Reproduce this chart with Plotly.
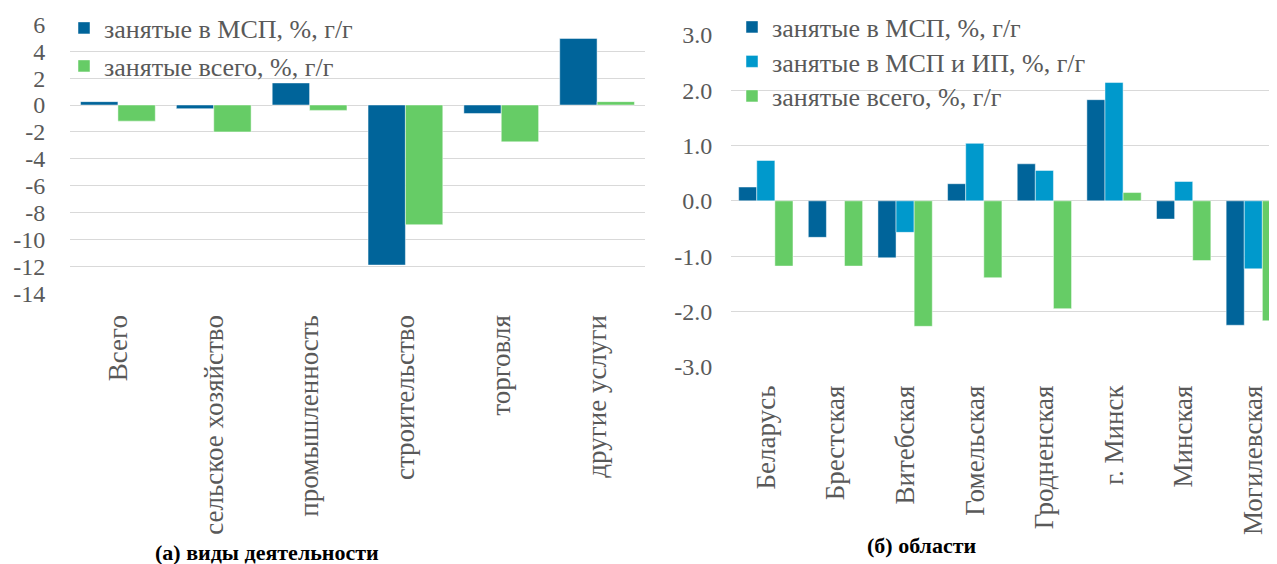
import plotly.graph_objects as go

# page body has an 8px margin, so the figure is offset by (8, 8) in the window
OFF = 8
W, H = 1277 - OFF, 564 - OFF

# ---- data: panel (a) ----
sectors = ["Всего", "сельское хозяйство", "промышленность", "строительство", "торговля", "другие услуги"]
sme_a = [0.25, -0.27, 1.64, -11.9, -0.63, 4.95]
total_a = [-1.2, -2.0, -0.4, -8.9, -2.74, 0.25]

# ---- data: panel (b) ----
regions = ["Беларусь", "Брестская", "Витебская", "Гомельская", "Гродненская", "г. Минск", "Минская", "Могилевская"]
sme_b = [0.25, -0.66, -1.03, 0.31, 0.67, 1.83, -0.33, -2.25]
sme_ip_b = [0.73, None, -0.57, 1.04, 0.55, 2.14, 0.35, -1.23]
total_b = [-1.18, -1.18, -2.27, -1.39, -1.95, 0.15, -1.08, -2.17]

yticks_a = [6, 4, 2, 0, -2, -4, -6, -8, -10, -12, -14]
yticks_b = [3.0, 2.0, 1.0, 0.0, -1.0, -2.0, -3.0]

C_DARK = "#00649A"
C_LIGHT = "#0099CC"
C_GREEN = "#66CC66"
TXT = "#595959"
GRID = "#D9D9D9"
FONT = "Liberation Serif, Times New Roman, serif"

def fx(x):
    return (x - OFF) / W

def fy(y):
    return 1 - (y - OFF) / H

def px(x0, x1):
    return [fx(x0), fx(x1)]

def py(top, bottom):
    return [fy(bottom), fy(top)]

line = dict(width=0.8, color="rgba(255,255,255,0.6)")

fig = go.Figure()
fig.add_trace(go.Bar(x=sectors, y=sme_a, name="занятые в МСП, %, г/г", marker=dict(color=C_DARK, line=line),
                     xaxis="x", yaxis="y", legend="legend", showlegend=True))
fig.add_trace(go.Bar(x=sectors, y=total_a, name="занятые всего, %, г/г", marker=dict(color=C_GREEN, line=line),
                     xaxis="x", yaxis="y", legend="legend2", showlegend=True))

fig.add_trace(go.Bar(x=regions, y=sme_b, name="занятые в МСП, %, г/г", marker=dict(color=C_DARK, line=line),
                     xaxis="x2", yaxis="y2", legend="legend3", showlegend=True))
fig.add_trace(go.Bar(x=regions, y=sme_ip_b, name="занятые в МСП и ИП, %, г/г", marker=dict(color=C_LIGHT, line=line),
                     xaxis="x2", yaxis="y2", legend="legend4", showlegend=True))
fig.add_trace(go.Bar(x=regions, y=total_b, name="занятые всего, %, г/г", marker=dict(color=C_GREEN, line=line),
                     xaxis="x2", yaxis="y2", legend="legend5", showlegend=True))

tickfont = dict(family=FONT, size=24, color=TXT)
catfont = dict(family=FONT, size=27, color=TXT)
legfont = dict(family=FONT, size=26, color=TXT)

def leg(xpix, ypix):
    return dict(x=fx(xpix), y=fy(ypix), xanchor="left", yanchor="middle", bgcolor="rgba(0,0,0,0)",
                font=legfont, itemwidth=30, borderwidth=0, visible=True)

fig.update_layout(
    width=W, height=H,
    template="none",
    showlegend=True,
    margin=dict(l=0, r=0, t=0, b=0, pad=0, autoexpand=False),
    paper_bgcolor="white", plot_bgcolor="white",
    barmode="group",
    bargap=0.22,
    font=dict(family=FONT, color=TXT),
    xaxis=dict(domain=px(70, 645), anchor="y", type="category", range=[-0.5, 5.5], automargin=False,
               tickangle=-90, tickfont=catfont, ticks="outside", ticklen=10, tickcolor="rgba(0,0,0,0)",
               showgrid=False, showline=False, zeroline=False),
    yaxis=dict(domain=py(24.3, 293.3), anchor="x", range=[-14, 6], tickvals=yticks_a, automargin=False,
               ticktext=[str(v) for v in yticks_a], tickfont=tickfont,
               ticks="outside", ticklen=19, tickcolor="rgba(0,0,0,0)",
               showgrid=True, gridcolor=GRID, gridwidth=1.3, zeroline=False, showline=False),
    xaxis2=dict(domain=px(731, 1277), anchor="y2", type="category", range=[-0.5, 7.34], automargin=False,
                tickangle=-90, tickfont=catfont, ticks="outside", ticklen=7, tickcolor="rgba(0,0,0,0)",
                showgrid=False, showline=False, zeroline=False),
    yaxis2=dict(domain=py(35, 366.7), anchor="x2", range=[-3, 3], tickvals=yticks_b, automargin=False,
                ticktext=[f"{v:.1f}" for v in yticks_b], tickfont=tickfont,
                ticks="outside", ticklen=13, tickcolor="rgba(0,0,0,0)",
                showgrid=True, gridcolor=GRID, gridwidth=1.3, zeroline=False, showline=False),
    legend=leg(64, 28),
    legend2=leg(64, 66),
    legend3=leg(732, 27),
    legend4=leg(732, 61.5),
    legend5=leg(732, 96),
    annotations=[
        dict(text="<b>(а) виды деятельности</b>", x=fx(267), y=fy(552), xref="paper", yref="paper",
             showarrow=False, font=dict(family=FONT, size=22, color="black"), xanchor="center", yanchor="middle"),
        dict(text="<b>(б) области</b>", x=fx(922), y=fy(545), xref="paper", yref="paper",
             showarrow=False, font=dict(family=FONT, size=22, color="black"), xanchor="center", yanchor="middle"),
    ],
)

fig.write_html("out.html")
